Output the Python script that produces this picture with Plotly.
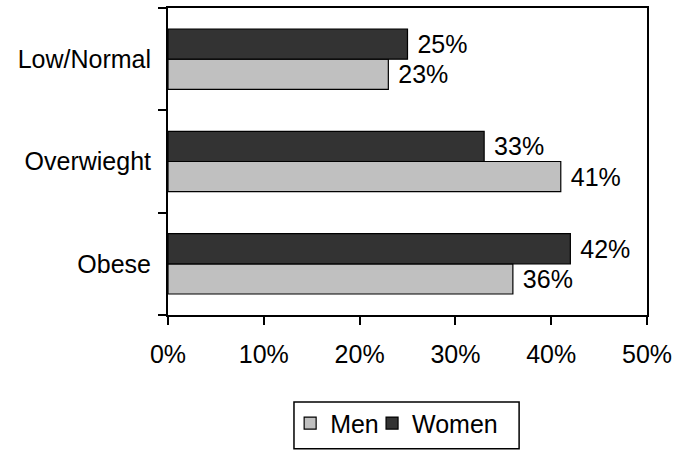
import plotly.graph_objects as go

categories = ["Low/Normal", "Overwieght", "Obese"]
men = [0.23, 0.41, 0.36]
women = [0.25, 0.33, 0.42]
x_ticks = [0, 0.1, 0.2, 0.3, 0.4, 0.5]
x_tick_labels = ["0%", "10%", "20%", "30%", "40%", "50%"]

FONT = "Liberation Sans, Arial, sans-serif"

fig = go.Figure()
fig.add_trace(go.Bar(
    name="Men", y=categories, x=men, orientation="h",
    marker=dict(color="#c0c0c0", line=dict(color="black", width=1.2)),
    texttemplate="\u00a0%{x:.0%}", textposition="outside",
    textfont=dict(size=25, color="black", family=FONT), cliponaxis=False,
    legend="legend",
))
fig.add_trace(go.Bar(
    name="Women", y=categories, x=women, orientation="h",
    marker=dict(color="#333333", line=dict(color="black", width=1.2)),
    texttemplate="\u00a0%{x:.0%}", textposition="outside",
    textfont=dict(size=25, color="black", family=FONT), cliponaxis=False,
    legend="legend2",
))

leg_common = dict(orientation="h", xanchor="left", yanchor="top", y=-0.278,
                  borderwidth=0, bgcolor="rgba(0,0,0,0)",
                  font=dict(size=25, family=FONT, color="black"), itemwidth=30)

fig.update_layout(
    template="none",
    width=674, height=451,
    margin=dict(l=168, r=27, t=8, b=136, autoexpand=False),
    paper_bgcolor="white", plot_bgcolor="white",
    font=dict(family=FONT, size=25, color="black"),
    barmode="group", bargap=0.41, bargroupgap=0,
    showlegend=True,
    legend=dict(x=0.255, **leg_common),
    legend2=dict(x=0.426, **leg_common),
    shapes=[dict(type="rect", xref="paper", yref="paper",
                 x0=0.263, x1=0.733, y0=-0.283, y1=-0.436,
                 line=dict(color="black", width=1.5), fillcolor="rgba(0,0,0,0)",
                 layer="below")],
)
fig.update_xaxes(
    range=[0, 0.5], tickvals=x_ticks, ticktext=x_tick_labels,
    showgrid=False, zeroline=False, automargin=False,
    showline=True, linecolor="black", linewidth=2, mirror=True,
    ticks="outside", ticklen=8, tickwidth=2, tickcolor="black",
    ticklabelstandoff=8,
)
fig.update_yaxes(
    categoryorder="array", categoryarray=list(reversed(categories)),
    range=[-0.5, 2.5], tickson="boundaries",
    showgrid=False, zeroline=False, automargin=False,
    showline=True, linecolor="black", linewidth=2, mirror=True,
    ticks="outside", ticklen=8, tickwidth=2, tickcolor="black",
    ticklabelstandoff=10,
)

fig.write_html(
    "out.html",
    config={"displayModeBar": False},
    post_script="document.body.style.margin='0';document.body.style.overflow='hidden';",
)
